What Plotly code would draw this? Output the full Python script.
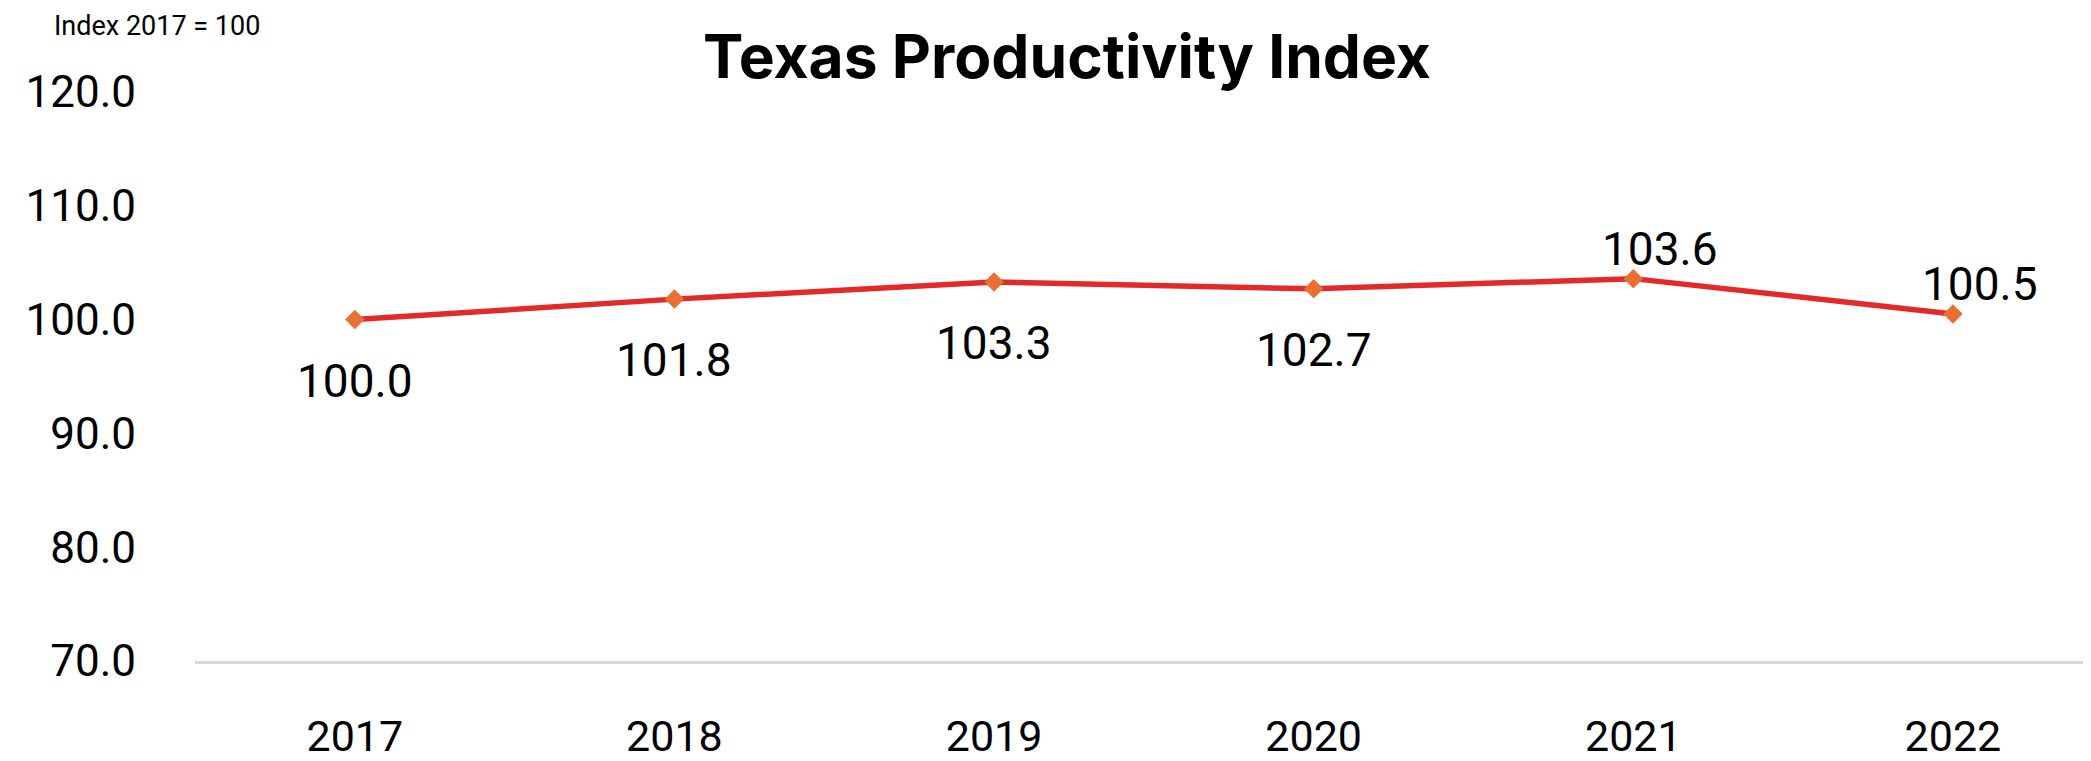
import plotly.graph_objects as go

# ---- data ----
years = ["2017", "2018", "2019", "2020", "2021", "2022"]
index_values = [100.0, 101.8, 103.3, 102.7, 103.6, 100.5]
y_ticks = [70, 80, 90, 100, 110, 120]

# label placement per point (style only)
label_side = ["below", "below", "below", "below", "above", "above"]

LINE_RED = "#E42A29"
MARKER_ORANGE = "#EB6F33"
FONT = "Roboto, 'Noto Sans', sans-serif"

fig = go.Figure()
fig.add_trace(go.Scatter(
    x=years, y=index_values, mode="lines+markers",
    line=dict(color=LINE_RED, width=5.5),
    marker=dict(symbol="diamond", size=15, color=MARKER_ORANGE),
    showlegend=False, hoverinfo="x+y",
))

for i, (v, side) in enumerate(zip(index_values, label_side)):
    if side == "below":
        fig.add_annotation(x=i, y=v, xref="x", yref="y", text=f"{v:.1f}",
                           showarrow=False, yshift=-61, xshift=0,
                           font=dict(family=FONT, size=46, color="#000000"))
    else:
        fig.add_annotation(x=i, y=v, xref="x", yref="y", text=f"{v:.1f}",
                           showarrow=False, yshift=30, xshift=27,
                           font=dict(family=FONT, size=46, color="#000000"))

fig.add_annotation(xref="paper", yref="paper", x=-0.0754, y=1.116,
                   xanchor="left", yanchor="middle", showarrow=False,
                   text="Index 2017 = 100",
                   font=dict(family=FONT, size=27, color="#000000"))

fig.update_layout(
    width=2083, height=753,
    margin=dict(l=187, r=0, t=84, b=100),
    paper_bgcolor="white", plot_bgcolor="white",
    title=dict(text="<b>Texas Productivity Index</b>", x=0.5084, xanchor="center",
               y=0.9356, yanchor="middle",
               font=dict(family="Inter, Roboto, sans-serif", size=60.5, color="#000000")),
    font=dict(family=FONT, color="#000000"),
)
fig.update_xaxes(
    type="category", range=[-0.5, 5.432], automargin=False,
    showgrid=False, zeroline=False,
    showline=True, linecolor="#D9D9D9", linewidth=3,
    ticks="", ticklabelstandoff=35,
    tickfont=dict(family=FONT, size=43, color="#000000"),
)
fig.update_yaxes(
    range=[70, 120], tickvals=y_ticks, automargin=False,
    ticktext=[f"{t:.1f}" for t in y_ticks],
    showgrid=False, zeroline=False, showline=False,
    ticks="", ticklabelstandoff=58,
    tickfont=dict(family=FONT, size=44, color="#000000"),
)

fig.write_html("out.html")
